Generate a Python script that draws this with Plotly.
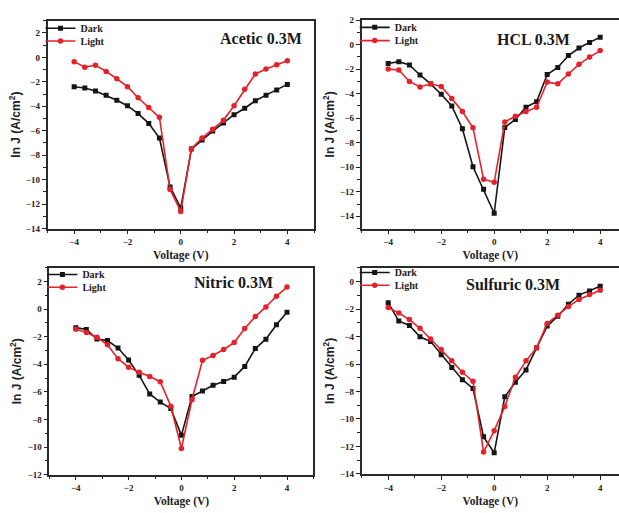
import plotly.graph_objects as go

# Applied voltage (V) for every sweep
voltage = [-4.0, -3.6, -3.2, -2.8, -2.4, -2.0, -1.6, -1.2, -0.8, -0.4, 0.0,
           0.4, 0.8, 1.2, 1.6, 2.0, 2.4, 2.8, 3.2, 3.6, 4.0]

# ln J (A/cm^2) for each electrolyte, dark and illuminated
acetic_dark = [-2.4, -2.5, -2.75, -3.1, -3.5, -3.95, -4.6, -5.4, -6.6, -10.6, -12.3,
               -7.5, -6.75, -6.03, -5.36, -4.69, -4.16, -3.55, -3.09, -2.67, -2.21]
acetic_light = [-0.35, -0.8, -0.65, -1.15, -1.75, -2.4, -3.3, -4.1, -4.9, -10.8, -12.6,
                -7.47, -6.6, -5.87, -5.15, -3.95, -2.6, -1.36, -0.96, -0.61, -0.27]

hcl_dark = [-1.54, -1.38, -1.65, -2.47, -3.19, -4.04, -5.0, -6.85, -9.96, -11.8, -13.75,
            -6.75, -6.1, -5.1, -4.65, -2.44, -1.86, -0.88, -0.27, 0.19, 0.61]
hcl_light = [-1.99, -2.07, -3.0, -3.45, -3.19, -3.4, -4.38, -5.45, -6.77, -10.97, -11.23,
             -6.3, -5.84, -5.45, -5.1, -3.05, -3.19, -2.39, -1.6, -1.01, -0.48]

nitric_dark = [-1.34, -1.48, -2.16, -2.28, -2.82, -3.69, -4.8, -6.15, -6.74, -7.21, -9.15,
               -6.34, -5.94, -5.52, -5.24, -4.93, -4.15, -2.86, -2.18, -1.13, -0.23]
nitric_light = [-1.46, -1.69, -2.04, -2.58, -3.59, -4.22, -4.58, -4.88, -5.26, -7.04, -10.1,
                -6.57, -3.71, -3.36, -2.93, -2.42, -1.41, -0.54, 0.16, 0.94, 1.6]

sulfuric_dark = [-1.54, -2.88, -3.19, -4.02, -4.37, -5.32, -6.26, -7.14, -7.78, -11.3, -12.46,
                 -8.39, -7.33, -6.43, -4.82, -3.24, -2.53, -1.65, -0.99, -0.69, -0.35]
sulfuric_light = [-1.89, -2.29, -2.77, -3.4, -4.18, -4.94, -5.77, -6.6, -7.26, -12.41, -10.85,
                  -9.1, -6.97, -5.77, -4.82, -3.05, -2.46, -1.82, -1.3, -0.94, -0.64]

panel_titles = ["Acetic 0.3M", "HCL 0.3M", "Nitric 0.3M", "Sulfuric 0.3M"]
x_ticks = [-4, -2, 0, 2, 4]
y_ticks = [
    [-14, -12, -10, -8, -6, -4, -2, 0, 2],
    [-14, -12, -10, -8, -6, -4, -2, 0, 2],
    [-12, -10, -8, -6, -4, -2, 0, 2],
    [-14, -12, -10, -8, -6, -4, -2, 0],
]

W, H = 619, 513
DARK = "#151515"
LIGHT = "#e3222b"
SERIF = "Liberation Serif"
SANS = "Liberation Sans"

# pixel frames of the four panels: (left, right, top, bottom)
frames = [
    (47.5, 314.0, 16.0, 228.0),
    (361.7, 619.0, 15.5, 228.0),
    (49.4, 313.4, 268.0, 479.0),
    (361.7, 619.0, 268.0, 478.3),
]
x_ranges = [[-5, 5], [-5, 4.71], [-5, 5], [-5, 4.71]]
y_ranges = [[-14, 3], [-15, 2], [-12, 3], [-14, 1]]
title_pos = [(261, 34), (533, 35), (233, 283), (513, 285)]
# vertical centre (px) of the Dark / Light legend rows in each panel
legend_rows = [(25, 38), (24, 37.5), (276, 289), (274, 287)]

series = [
    (acetic_dark, acetic_light),
    (hcl_dark, hcl_light),
    (nitric_dark, nitric_light),
    (sulfuric_dark, sulfuric_light),
]

fig = go.Figure()
layout = dict(
    width=W, height=H,
    margin=dict(l=0, r=0, t=0, b=0),
    paper_bgcolor="white", plot_bgcolor="white",
    showlegend=True,
    annotations=[],
)

legend_font = dict(family=SERIF, size=10, color="#222", weight="bold")

for i, (dark, light) in enumerate(series):
    n = i + 1
    xa = "x" if n == 1 else f"x{n}"
    ya = "y" if n == 1 else f"y{n}"
    lg_dark = "legend" if i == 0 else f"legend{2 * i + 1}"
    lg_light = f"legend{2 * i + 2}"
    fig.add_trace(go.Scatter(
        x=voltage, y=dark, name="Dark", mode="lines+markers",
        line=dict(color=DARK, width=1.6),
        marker=dict(symbol="square", size=5, color=DARK),
        xaxis=xa, yaxis=ya, legend=lg_dark,
    ))
    fig.add_trace(go.Scatter(
        x=voltage, y=light, name="Light", mode="lines+markers",
        line=dict(color=LIGHT, width=1.6),
        marker=dict(symbol="circle", size=5.5, color=LIGHT),
        xaxis=xa, yaxis=ya, legend=lg_light,
    ))

    l, r, t, b = frames[i]
    right_col = i in (1, 3)
    xkey = "xaxis" if n == 1 else f"xaxis{n}"
    ykey = "yaxis" if n == 1 else f"yaxis{n}"
    layout[xkey] = dict(
        domain=[l / W, r / W], anchor=ya, range=x_ranges[i],
        tickvals=x_ticks, ticks="outside", ticklen=4, tickwidth=1.3, tickcolor="#222",
        minor=dict(dtick=1, tick0=0, ticks="outside", ticklen=2.5, tickcolor="#222", tickwidth=1.2),
        showline=True, linecolor="#2a2a2a", linewidth=1.6, mirror=True,
        showgrid=False, zeroline=False,
        tickfont=dict(family=SERIF, size=9, color="#222", weight="bold"),
        title=dict(text="Voltage (V)", standoff=5,
                   font=dict(family=SERIF, size=11.5, color="#222", weight="bold")),
    )
    layout[ykey] = dict(
        domain=[1 - b / H, 1 - t / H], anchor=xa, range=y_ranges[i],
        tickvals=y_ticks[i], ticks="outside", ticklen=4, tickwidth=1.3, tickcolor="#222",
        minor=dict(dtick=1, tick0=0, ticks="outside", ticklen=2.5, tickcolor="#222", tickwidth=1.2),
        showline=True, linecolor="#2a2a2a", linewidth=1.6, mirror=not right_col,
        showgrid=False, zeroline=False,
        tickfont=dict(family=SERIF, size=9, color="#222", weight="bold"),
        title=dict(text="ln J (A/cm<sup>2</sup>)", standoff=3,
                   font=dict(family=SANS, size=12, color="#222", weight="bold")),
    )
    yd, yl = legend_rows[i]
    for key, yc in ((lg_dark, yd), (lg_light, yl)):
        layout[key] = dict(
            x=(l - 7) / W, y=1 - (yc - 16) / H, xanchor="left", yanchor="top",
            bgcolor="rgba(0,0,0,0)", borderwidth=0,
            font=legend_font, tracegroupgap=0, itemwidth=30,
        )
    tx, ty = title_pos[i]
    layout["annotations"].append(dict(
        text=panel_titles[i], x=tx / W, y=1 - ty / H, xref="paper", yref="paper",
        xanchor="center", yanchor="middle", showarrow=False,
        font=dict(family=SERIF, size=16, color="#1a1a1a", weight="bold"),
    ))

fig.update_layout(**layout)
fig.write_html("out.html")
